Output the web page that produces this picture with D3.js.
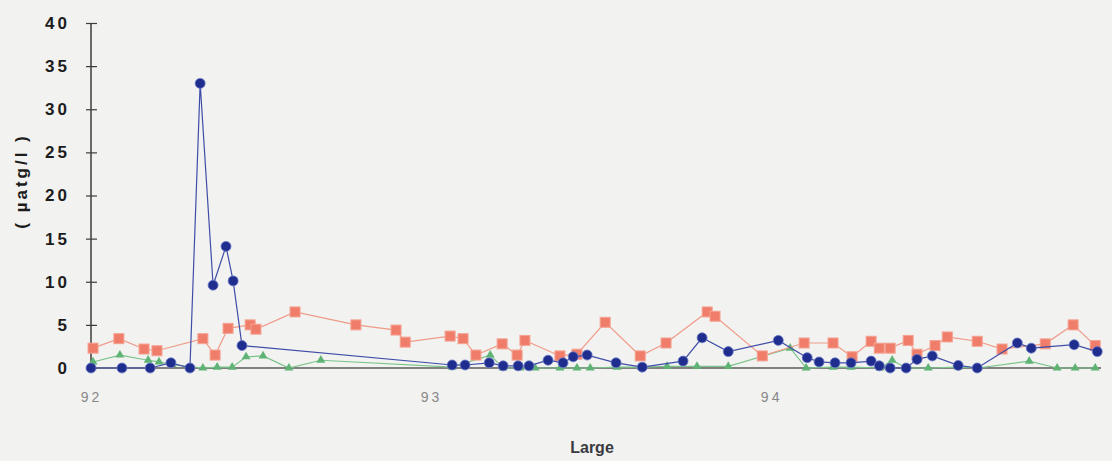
<!DOCTYPE html>
<html>
<head>
<meta charset="utf-8">
<script src="https://cdn.jsdelivr.net/npm/d3@7/dist/d3.min.js"></script>
<style>
  html, body { margin: 0; padding: 0; background: #f2f2f0; }
  svg { display: block; }
</style>
</head>
<body>
<svg id="chart" width="1112" height="461"></svg>
<script>
// Sampling dates (decimal year, 92 = 1992) and concentrations in µatg/l
const blueX = [92.000, 92.091, 92.174, 92.235, 92.291, 92.321, 92.359, 92.397, 92.418, 92.444,
  93.062, 93.100, 93.171, 93.212, 93.256, 93.288, 93.344, 93.388, 93.418, 93.459,
  93.544, 93.621, 93.741, 93.797, 93.874, 94.021, 94.106, 94.141, 94.188, 94.235,
  94.294, 94.318, 94.350, 94.397, 94.429, 94.474, 94.550, 94.606, 94.724, 94.765,
  94.891, 94.959];
const blueY = [0, 0, 0, 0.6, 0, 33.0, 9.6, 14.1, 10.1, 2.6,
  0.35, 0.35, 0.6, 0.25, 0.25, 0.25, 0.9, 0.6, 1.3, 1.5,
  0.6, 0.1, 0.8, 3.5, 1.9, 3.2, 1.2, 0.7, 0.6, 0.6,
  0.8, 0.25, 0, 0, 1.0, 1.4, 0.3, 0, 2.9, 2.3,
  2.7, 1.9];

const redX = [92.006, 92.082, 92.156, 92.194, 92.329, 92.365, 92.403, 92.468, 92.485, 92.600,
  92.779, 92.897, 92.924, 93.056, 93.094, 93.132, 93.209, 93.253, 93.276, 93.379,
  93.429, 93.512, 93.615, 93.691, 93.812, 93.835, 93.974, 94.097, 94.182, 94.238,
  94.294, 94.318, 94.350, 94.403, 94.429, 94.482, 94.518, 94.606, 94.679, 94.806,
  94.888, 94.953];
const redY = [2.3, 3.4, 2.2, 2.0, 3.4, 1.5, 4.6, 5.0, 4.5, 6.5,
  5.0, 4.4, 3.0, 3.7, 3.4, 1.5, 2.8, 1.5, 3.2, 1.4,
  1.6, 5.3, 1.4, 2.9, 6.5, 6.0, 1.4, 2.9, 2.9, 1.3,
  3.1, 2.3, 2.3, 3.2, 1.6, 2.6, 3.6, 3.1, 2.2, 2.8,
  5.0, 2.6];

const greenX = [92.006, 92.085, 92.168, 92.200, 92.238, 92.329, 92.371, 92.415, 92.456, 92.506,
  92.582, 92.676, 93.062, 93.174, 93.212, 93.262, 93.306, 93.379, 93.429, 93.468,
  93.547, 93.618, 93.694, 93.782, 93.874, 94.056, 94.103, 94.182, 94.235, 94.321,
  94.356, 94.397, 94.462, 94.550, 94.609, 94.759, 94.841, 94.894, 94.953];
const greenY = [0.7, 1.5, 0.9, 0.7, 0.4, 0, 0.1, 0.1, 1.3, 1.4,
  0, 0.9, 0.1, 1.5, 0, 0, 0, 0, 0, 0,
  0.1, 0.1, 0.2, 0.2, 0.2, 2.3, 0, 0.1, 0.1, 0,
  0.9, 0, 0, 0.1, 0, 0.8, 0, 0, 0];

const yTicks = [0, 5, 10, 15, 20, 25, 30, 35, 40];
const xTicks = [92, 93, 94];
const yTitle = "(  µatg/l  )";
const xTitle = "Large";

const svg = d3.select("#chart");

const x = d3.scaleLinear().domain([92, 94.97]).range([91, 1101]);
const y = d3.scaleLinear().domain([0, 40]).range([368, 23]);

// Horizontal baseline
svg.append("line")
  .attr("x1", x(92)).attr("x2", x(94.97))
  .attr("y1", y(0)).attr("y2", y(0))
  .attr("stroke", "#5a5a5a").attr("stroke-width", 1.5);

// X tick labels (no tick marks)
const xAxis = svg.append("g")
  .attr("transform", `translate(0,${y(0)})`)
  .call(d3.axisBottom(x).tickValues(xTicks).tickSize(0).tickPadding(24).tickFormat(d3.format("d")));
xAxis.select(".domain").remove();
xAxis.selectAll("text")
  .attr("font-family", "Liberation Sans, Arial, sans-serif")
  .attr("font-size", 14)
  .attr("letter-spacing", "3px")
  .attr("fill", "#888888");

// Y axis with ticks crossing the line
const yAxis = svg.append("g")
  .attr("transform", `translate(${x(92)},0)`)
  .call(d3.axisLeft(y).tickValues(yTicks).tickSize(5).tickPadding(16).tickSizeOuter(0));
yAxis.select(".domain").attr("stroke", "#3c3c3c").attr("stroke-width", 1.5)
  .attr("d", `M0,${y(40)}V${y(0)}`);
yAxis.selectAll(".tick line").attr("x1", 6).attr("stroke", "#3c3c3c").attr("stroke-width", 1.2);
yAxis.selectAll("text")
  .attr("font-family", "Liberation Sans, Arial, sans-serif")
  .attr("font-size", 17)
  .attr("font-weight", "bold")
  .attr("letter-spacing", "3px")
  .attr("fill", "#1c1c1c");

// Axis titles
svg.append("text")
  .attr("transform", `translate(27,${181}) rotate(-90)`)
  .attr("text-anchor", "middle")
  .attr("font-family", "Liberation Sans, Arial, sans-serif")
  .attr("font-size", 17).attr("font-weight", "bold")
  .attr("letter-spacing", "3px")
  .attr("fill", "#1c1c1c")
  .text(yTitle);

svg.append("text")
  .attr("x", 592).attr("y", 453)
  .attr("text-anchor", "middle")
  .attr("font-family", "Liberation Sans, Arial, sans-serif")
  .attr("font-size", 16).attr("font-weight", "bold")
  .attr("fill", "#3a3a40")
  .text(xTitle);

// Series
const zip = (xs, ys) => xs.map((v, i) => [v, ys[i]]);
const line = d3.line().x(d => x(d[0])).y(d => y(d[1]));

const green = zip(greenX, greenY);
const red = zip(redX, redY);
const blue = zip(blueX, blueY);

svg.append("path").datum(green).attr("d", line)
  .attr("fill", "none").attr("stroke", "#7cc48c").attr("stroke-width", 1.2);
svg.append("g").selectAll("path").data(green).join("path")
  .attr("d", d3.symbol(d3.symbolTriangle, 34))
  .attr("transform", d => `translate(${x(d[0])},${y(d[1])})`)
  .attr("fill", "#5fb374");

svg.append("path").datum(red).attr("d", line)
  .attr("fill", "none").attr("stroke", "#f09a88").attr("stroke-width", 1.2);
svg.append("g").selectAll("rect").data(red).join("rect")
  .attr("x", d => x(d[0]) - 5).attr("y", d => y(d[1]) - 5)
  .attr("width", 10).attr("height", 10)
  .attr("fill", "#f07d6a").attr("stroke", "#f4a292").attr("stroke-width", 1);

svg.append("path").datum(blue).attr("d", line)
  .attr("fill", "none").attr("stroke", "#3f4da8").attr("stroke-width", 1.2);
svg.append("g").selectAll("circle").data(blue).join("circle")
  .attr("cx", d => x(d[0])).attr("cy", d => y(d[1]))
  .attr("r", 5)
  .attr("fill", "#1f2e8e").attr("stroke", "#6f7cc8").attr("stroke-width", 0.8);
</script>
</body>
</html>
